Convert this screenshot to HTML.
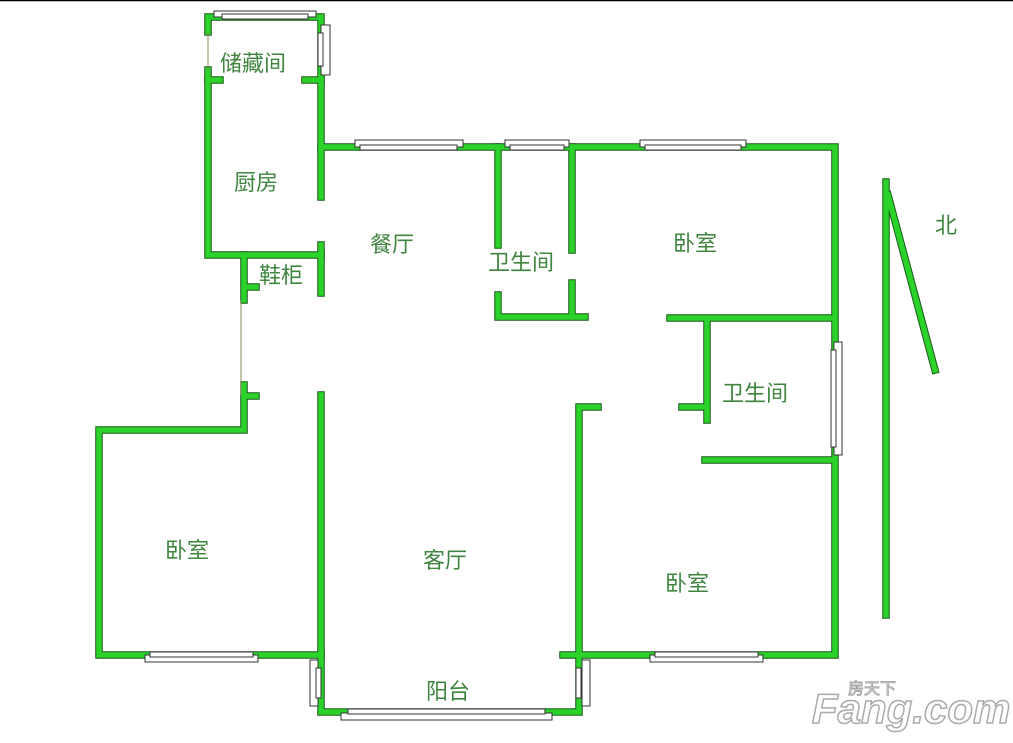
<!DOCTYPE html>
<html><head><meta charset="utf-8"><style>
html,body{margin:0;padding:0;background:#fff;width:1013px;height:743px;overflow:hidden}
svg{position:absolute;left:0;top:0}
text{font-family:"Liberation Sans","Noto Sans CJK SC",sans-serif;font-size:22px;fill:#3f843f}
</style></head><body>
<svg width="1013" height="743" viewBox="0 0 1013 743">
<line x1="0" y1="0.5" x2="1013" y2="0.5" stroke="#000" stroke-width="1.5"/>
<defs>
<g id="w">
<path d="M208,32 V17 H321 V197"/>
<path d="M208,70 V255 H321"/>
<path d="M208,80 H220 M305,80 H321"/>
<path d="M321,245 V293"/>
<path d="M244,255 V300 M244,287 H256"/>
<path d="M244,385 V430 H99 V655 H321 M244,396 H256"/>
<path d="M321,147 H835 V655 H563"/>
<path d="M321,395 V712 H579 V407 H598"/>
<path d="M498,147 V245 M498,295 V317 H585 M572,147 V250 M572,283 V317"/>
<path d="M670,318 H834 M707,318 V420 M682,407 H707 M705,460 H834"/>
<path d="M886,182 V615 M888,195 L935,370"/>
</g>
</defs>
<g fill="none" stroke="#1a5a1a" stroke-width="7.5" stroke-linecap="square"><use href="#w"/></g>
<g fill="none" stroke="#2ad22a" stroke-width="5.5" stroke-linecap="square"><use href="#w"/></g>
<line x1="241" y1="300" x2="241" y2="395" stroke="#8a8a5a" stroke-width="1"/>
<line x1="208" y1="32" x2="208" y2="70" stroke="#8a8a5a" stroke-width="1"/>
<g fill="#fff" stroke="#333" stroke-width="1">
<rect x="214" y="11" width="102" height="6"/><rect x="222" y="14" width="86" height="5"/>
<rect x="321" y="25" width="9" height="50"/><rect x="318" y="33" width="5" height="33"/>
<rect x="355" y="140" width="108" height="7"/><rect x="360" y="145" width="97" height="5"/>
<rect x="505" y="140" width="64" height="7"/><rect x="510" y="145" width="54" height="5"/>
<rect x="640" y="140" width="106" height="7"/><rect x="645" y="145" width="96" height="5"/>
<rect x="834" y="342" width="8" height="113"/><rect x="831" y="350" width="5" height="97"/>
<rect x="145" y="655" width="113" height="7"/><rect x="150" y="652" width="103" height="5"/>
<rect x="650" y="655" width="113" height="7"/><rect x="655" y="652" width="103" height="5"/>
<rect x="310" y="660" width="8" height="46"/><rect x="316" y="668" width="5" height="30"/>
<rect x="582" y="660" width="8" height="46"/><rect x="576" y="668" width="5" height="30"/>
<rect x="341" y="712" width="144" height="0" stroke="none"/>
<rect x="341" y="714" width="144" height="6" style="display:none"/>
<rect x="341" y="713" width="211" height="7"/><rect x="348" y="709" width="197" height="5"/>
</g>
<text x="220" y="71">储藏间</text>
<text x="234" y="190">厨房</text>
<text x="370" y="252">餐厅</text>
<text x="488" y="270">卫生间</text>
<text x="673" y="251">卧室</text>
<text x="259" y="283">鞋柜</text>
<text x="722" y="401">卫生间</text>
<text x="165" y="558">卧室</text>
<text x="423" y="568">客厅</text>
<text x="665" y="591">卧室</text>
<text x="426" y="699">阳台</text>
<text x="935" y="233">北</text>
<text x="812" y="723" style="font-size:42px;font-weight:bold;fill:#fff;stroke:#aaa;stroke-width:1.5;font-style:italic">Fang.com</text>
<text x="848" y="694" style="font-size:16px;fill:#fff;stroke:#aaa;stroke-width:1">房天下</text>
</svg>
</body></html>
